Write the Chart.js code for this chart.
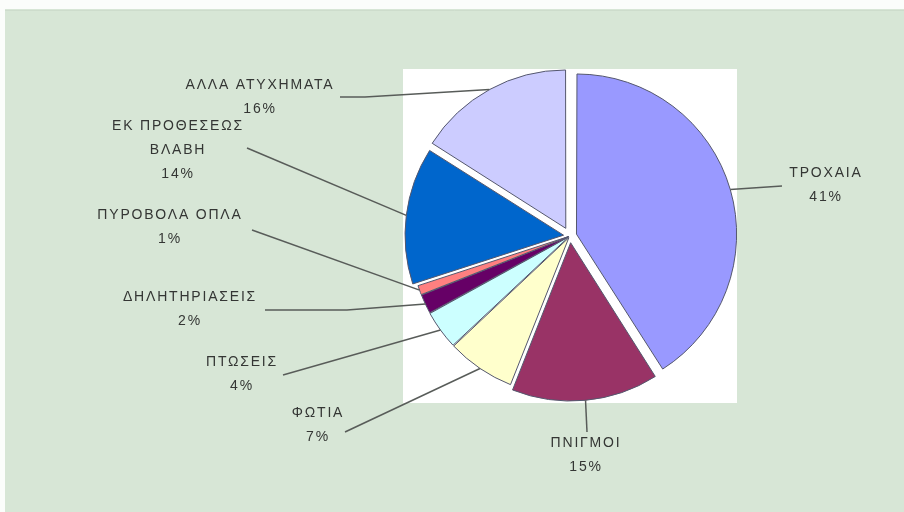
<!DOCTYPE html>
<html>
<head>
<meta charset="utf-8">
<script src="https://cdn.jsdelivr.net/npm/chart.js@4"></script>
<style>
html, body { margin: 0; padding: 0; background: #fbfdfb; }
canvas { display: block; }
</style>
</head>
<body>
<canvas id="chartCanvas" width="904" height="512"></canvas>
<script>
// Δεδομένα
const categories = ["ΤΡΟΧΑΙΑ", "ΠΝΙΓΜΟΙ", "ΦΩΤΙΑ", "ΠΤΩΣΕΙΣ", "ΔΗΛΗΤΗΡΙΑΣΕΙΣ", "ΠΥΡΟΒΟΛΑ ΟΠΛΑ", "ΕΚ ΠΡΟΘΕΣΕΩΣ ΒΛΑΒΗ", "ΑΛΛΑ ΑΤΥΧΗΜΑΤΑ"];
const labelLines = [["ΤΡΟΧΑΙΑ"], ["ΠΝΙΓΜΟΙ"], ["ΦΩΤΙΑ"], ["ΠΤΩΣΕΙΣ"], ["ΔΗΛΗΤΗΡΙΑΣΕΙΣ"], ["ΠΥΡΟΒΟΛΑ ΟΠΛΑ"], ["ΕΚ ΠΡΟΘΕΣΕΩΣ", "ΒΛΑΒΗ"], ["ΑΛΛΑ ΑΤΥΧΗΜΑΤΑ"]];
const percents = [41, 15, 7, 4, 2, 1, 14, 16];

// Στυλ
const colors = ["#9999ff", "#993366", "#ffffcc", "#ccffff", "#660066", "#ff8080", "#0066cc", "#ccccff"];
const offsets = [27, 27, 8, 7, 6, 6, 26, 35];
// κέντρο κειμένου (πρώτη γραμμή)
const textPos = [[826, 173], [586, 443], [318, 413], [242, 362], [190, 297], [170, 215], [178, 126], [260, 85]];
// άκρο οδηγού γραμμής στην πλευρά της ετικέτας, προαιρετικό x γωνίας
const leaderPos = [[782, 186], [587, 432], [345, 432], [283, 375], [265, 310, 347], [252, 230], [247, 148], [340, 97, 365]];

const ctx = document.getElementById("chartCanvas").getContext("2d");

const backdrop = {
    id: "backdrop",
    beforeDraw(chart) {
        const c = chart.ctx;
        c.save();
        c.fillStyle = "#d7e6d6";
        c.fillRect(5, 9, chart.width - 5, chart.height - 9);
        c.strokeStyle = "#cddccc";
        c.lineWidth = 1;
        c.beginPath();
        c.moveTo(5, 10.5);
        c.lineTo(chart.width, 10.5);
        c.stroke();
        c.restore();
    },
    beforeDatasetsDraw(chart) {
        const arc = chart.getDatasetMeta(0).data[0];
        if (!arc) return;
        const half = arc.outerRadius + 10;
        const c = chart.ctx;
        c.save();
        c.fillStyle = "#ffffff";
        c.fillRect(arc.x - half, arc.y - half, half * 2, half * 2);
        c.restore();
    }
};

const labels = {
    id: "outerLabels",
    afterDatasetsDraw(chart) {
        const c = chart.ctx;
        const arcs = chart.getDatasetMeta(0).data;
        c.save();
        arcs.forEach((arc, i) => {
            const mid = (arc.startAngle + arc.endAngle) / 2;
            const circ = arc.endAngle - arc.startAngle;
            const fix = 1 - Math.sin(Math.min(Math.PI, circ));
            const disp = offsets[i] / 4 * (1 + fix);
            const r = arc.outerRadius + disp;
            const px = arc.x + Math.cos(mid) * r;
            const py = arc.y + Math.sin(mid) * r;

            const lp = leaderPos[i];
            c.strokeStyle = "#585c59";
            c.lineWidth = 1.5;
            c.beginPath();
            c.moveTo(lp[0], lp[1]);
            if (lp.length > 2) c.lineTo(lp[2], lp[1]);
            c.lineTo(px, py);
            c.stroke();

            c.fillStyle = "#343634";
            c.font = '14px "Liberation Sans", Arial, sans-serif';
            c.letterSpacing = "1.8px";
            c.textAlign = "center";
            c.textBaseline = "middle";
            const lines = labelLines[i].concat([percents[i] + "%"]);
            lines.forEach((t, k) => {
                c.fillText(t, textPos[i][0], textPos[i][1] + k * 24);
            });
        });
        c.restore();
    }
};

new Chart(ctx, {
    type: "pie",
    data: {
        labels: categories,
        datasets: [{
            data: percents,
            backgroundColor: colors,
            borderColor: "#55586e",
            borderWidth: 1,
            offset: offsets
        }]
    },
    options: {
        responsive: false,
        animation: false,
        layout: {
            padding: { left: 395, right: 159, top: 61, bottom: 101 }
        },
        plugins: {
            legend: { display: false },
            tooltip: { enabled: false }
        }
    },
    plugins: [backdrop, labels]
});
</script>
</body>
</html>
